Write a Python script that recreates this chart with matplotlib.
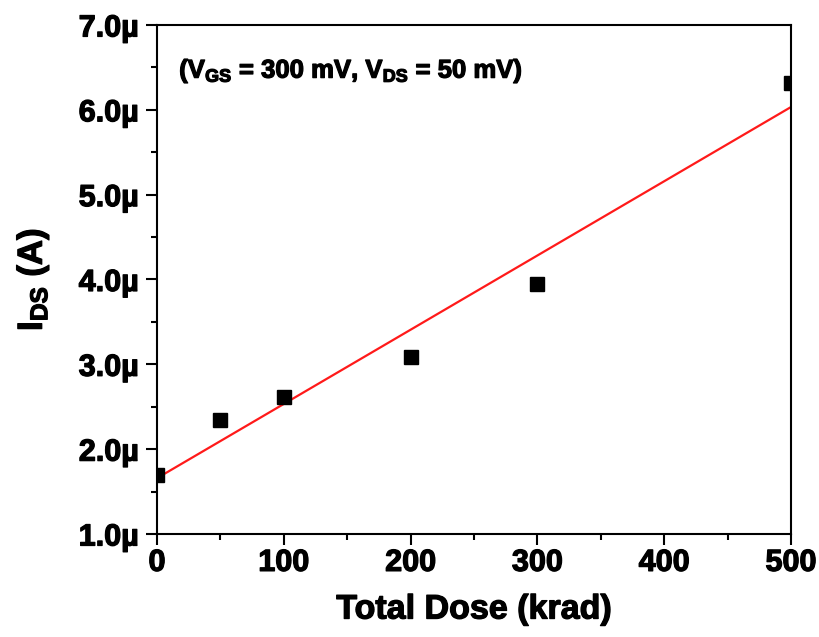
import matplotlib
matplotlib.use("Agg")
import matplotlib.pyplot as plt
import matplotlib.patheffects as pe
import numpy as np
from matplotlib.ticker import MultipleLocator, FuncFormatter

plt.rcParams['font.family'] = ['Liberation Sans', 'DejaVu Sans']
plt.rcParams['font.weight'] = 'bold'
plt.rcParams['mathtext.fontset'] = 'custom'
plt.rcParams['mathtext.rm'] = 'Liberation Sans:bold'
plt.rcParams['mathtext.bf'] = 'Liberation Sans:bold'
plt.rcParams['mathtext.it'] = 'Liberation Sans:bold'

# measured data (dose in krad, current in uA)
dose = [0, 50, 100, 200, 300, 500]
ids = [1.70, 2.34, 2.61, 3.09, 3.95, 6.32]

# linear fit
k, b = np.polyfit(dose, ids, 1)
fit_x = np.array([0, 500])
fit_y = k * fit_x + b

heavy = [pe.withStroke(linewidth=0.9, foreground='black')]

fig = plt.figure(figsize=(8.19, 6.37), dpi=100)
ax = fig.add_axes([0.1917, 0.1617, 0.7741, 0.7991])

ax.plot(fit_x, fit_y, color='#ff1a1a', lw=1.6)
ax.plot(dose, ids, 's', color='black', ms=10.5, clip_on=True)

ax.set_xlim(0, 500)
ax.set_ylim(1.0, 7.0)
ax.xaxis.set_major_locator(MultipleLocator(100))
ax.xaxis.set_minor_locator(MultipleLocator(50))
ax.yaxis.set_major_locator(MultipleLocator(1.0))
ax.yaxis.set_minor_locator(MultipleLocator(0.5))
ax.yaxis.set_major_formatter(FuncFormatter(lambda v, p: '%.1f\u00b5' % v))

ax.tick_params(which='major', direction='out', length=8, width=1.5, labelsize=22, pad=5)
ax.tick_params(axis='x', which='major', pad=2)
ax.tick_params(which='minor', direction='out', length=4, width=1.5)
for s in ax.spines.values():
    s.set_linewidth(1.5)
for t in ax.get_xticklabels() + ax.get_yticklabels():
    t.set_path_effects(heavy)

ax.set_xlabel('Total Dose (krad)', fontsize=24.5, fontweight='bold', labelpad=12,
              path_effects=heavy)
ax.set_ylabel(r'I$_{\mathbf{DS}}$ (A)', fontsize=25, fontweight='bold', labelpad=20,
              path_effects=heavy)

ax.text(0.035, 0.91, r'(V$_{\mathbf{GS}}$ = 300 mV, V$_{\mathbf{DS}}$ = 50 mV)',
        transform=ax.transAxes, fontsize=18.5, fontweight='bold', va='center',
        path_effects=heavy)

plt.savefig('out.png', dpi=100)
